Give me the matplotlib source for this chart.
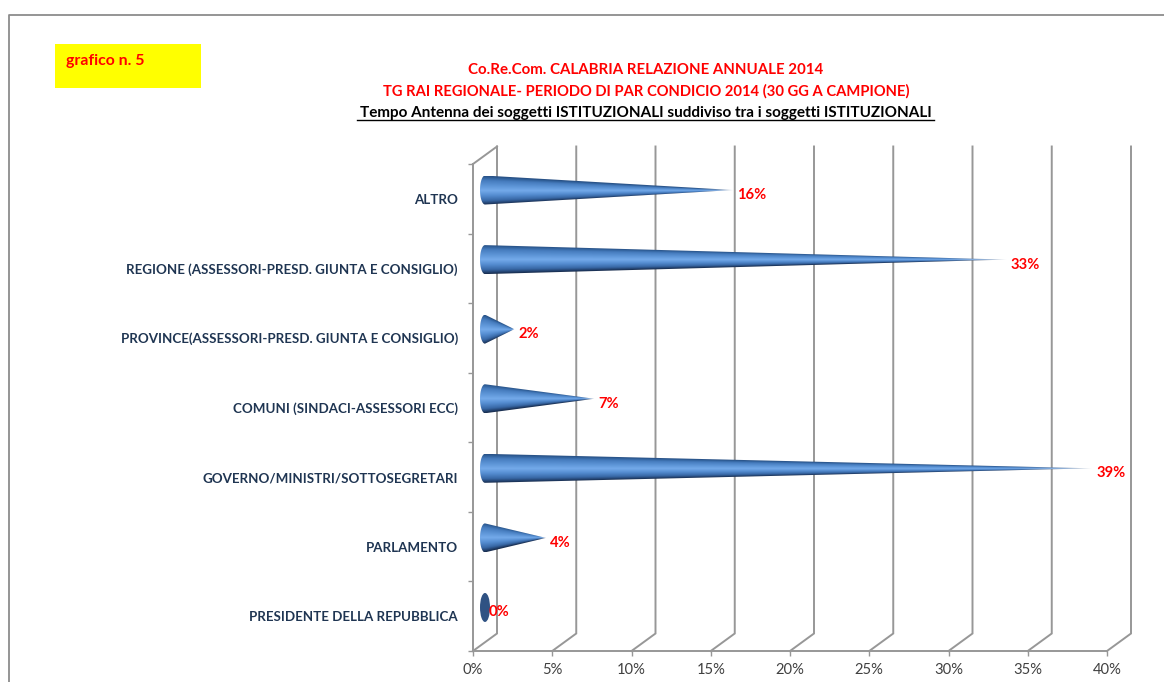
import numpy as np
import matplotlib
matplotlib.use('Agg')
import matplotlib.pyplot as plt
from matplotlib.patches import Ellipse, PathPatch, Rectangle
from matplotlib.path import Path
from matplotlib.lines import Line2D

# bottom to top, as on the chart's axis
categories = ['PRESIDENTE DELLA REPUBBLICA', 'PARLAMENTO', 'GOVERNO/MINISTRI/SOTTOSEGRETARI',
              'COMUNI (SINDACI-ASSESSORI ECC)', 'PROVINCE(ASSESSORI-PRESD. GIUNTA E CONSIGLIO)',
              'REGIONE (ASSESSORI-PRESD. GIUNTA E CONSIGLIO)', 'ALTRO']
values = [0.0, 3.85, 38.3, 6.9, 1.85, 32.9, 15.65]
value_labels = ['0%', '4%', '39%', '7%', '2%', '33%', '16%']
x_ticks = [0, 5, 10, 15, 20, 25, 30, 35, 40]

titles = ['Co.Re.Com. CALABRIA RELAZIONE ANNUALE 2014',
          'TG RAI REGIONALE- PERIODO DI PAR CONDICIO 2014 (30 GG A CAMPIONE)',
          'Tempo Antenna dei soggetti ISTITUZIONALI suddiviso tra i soggetti ISTITUZIONALI']

W, H = 1164, 682
GRAY = '#979797'
plt.rcParams['font.family'] = ['Lato', 'DejaVu Sans']

fig = plt.figure(figsize=(W / 100, H / 100), dpi=100)

# overlay in pixel coordinates for the frame and the headings
bg = fig.add_axes([0, 0, 1, 1])
bg.set_xlim(0, W)
bg.set_ylim(H, 0)
bg.axis('off')
bg.add_line(Line2D([9, 9, W], [H, 15, 15], color='#8c8c8c', lw=1.3))
bg.add_patch(Rectangle((55, 44), 146, 43.5, color='#ffff00', lw=0))
bg.text(66, 61, 'grafico n. 5', color='red', fontsize=11.4, fontweight='bold', va='center')
bg.text(646, 70.5, titles[0], color='red', fontsize=10.8, fontweight='bold', ha='center', va='center')
bg.text(646, 91, titles[1], color='red', fontsize=10.6, fontweight='bold', ha='center', va='center')
bg.text(646, 113, titles[2], color='black', fontsize=11, fontweight='bold', ha='center', va='center')
bg.add_line(Line2D([357, 934], [120, 120], color='black', lw=1.0))

ax = fig.add_axes([473 / W, (H - 651) / H, 634 / W, 487 / H])
ax.patch.set_alpha(0)
ax.set_xlim(0, 40)
ax.set_ylim(0, len(categories))

px_x = 634 / 40
px_y = 487 / len(categories)
depth_x = 24 / px_x
depth_y = 17.5 / px_y

# back walls and floor
for t in x_ticks:
    ax.plot([t, t + depth_x, t + depth_x], [0, depth_y, len(categories) + depth_y],
            color=GRAY, lw=1.4, clip_on=False, zorder=1, solid_joinstyle='miter')
ax.plot([0, depth_x], [len(categories), len(categories) + depth_y], color=GRAY, lw=1.4, clip_on=False, zorder=1)

stops_t = [0.0, 0.35, 0.7, 0.9, 1.0]
stops_top = np.array([[0x74, 0xaa, 0xea], [0x5c, 0x94, 0xd6], [0x46, 0x7c, 0xbe], [0x30, 0x60, 0x9a], [0x28, 0x50, 0x84]]) / 255
stops_bot = np.array([[0x74, 0xaa, 0xea], [0x54, 0x8c, 0xd0], [0x38, 0x68, 0xa6], [0x22, 0x40, 0x6c], [0x18, 0x2c, 0x4c]]) / 255

half_h = 14.5 / px_y
half_w = 5 / px_x

for i, (v, lab) in enumerate(zip(values, value_labels)):
    yc = i + 0.5 + depth_y / 2
    xc = depth_x / 2
    tip = xc + v
    if v > 0:
        # gradient across the cone, fading to pale at the tip
        xs = np.linspace(xc - half_w, tip, 500)
        ys = np.linspace(yc - half_h, yc + half_h, 120)
        xg, yg = np.meshgrid(xs, ys)
        frac = np.clip((xg - xc) / v, 0, 1)
        t = np.clip(np.abs(yg - yc) / (half_h * np.maximum(1 - frac, 0.01)), 0, 1)
        img = np.zeros(xg.shape + (3,))
        for c in range(3):
            upper = np.interp(t, stops_t, stops_top[:, c])
            lower = np.interp(t, stops_t, stops_bot[:, c])
            img[..., c] = np.where(yg >= yc, upper, lower)
        fade = np.clip((frac - 0.85) / 0.15, 0, 1)[..., None] ** 2
        img = img * (1 - fade * 0.8) + fade * 0.8
        im = ax.imshow(img, extent=[xs[0], xs[-1], ys[0], ys[-1]], origin='lower',
                       aspect='auto', zorder=3, interpolation='bilinear')
        ang = np.linspace(np.pi / 2, 3 * np.pi / 2, 40)
        outline = np.column_stack([xc + half_w * np.cos(ang), yc + half_h * np.sin(ang)])
        outline = np.vstack([outline, [tip, yc], outline[0]])
        clip = PathPatch(Path(outline), transform=ax.transData, fc='none', ec='none')
        ax.add_patch(clip)
        im.set_clip_path(clip)
    else:
        ax.add_patch(Ellipse((xc, yc), 2 * half_w, 2 * half_h, fc='#2f5283', ec='none', zorder=3))
    ax.annotate(lab, (tip, yc), xytext=(4, -5), textcoords='offset pixels', color='red',
                fontsize=10.6, fontweight='bold', ha='left', va='center', zorder=4, annotation_clip=False)

ax.set_xlim(0, 40)
ax.set_ylim(0, len(categories))

for side in ['top', 'right']:
    ax.spines[side].set_visible(False)
for side in ['left', 'bottom']:
    ax.spines[side].set_color(GRAY)
    ax.spines[side].set_linewidth(1.4)

ax.set_xticks(x_ticks)
ax.set_xticklabels([f'{t}%' for t in x_ticks], fontsize=10.6, color='#404040')
ax.tick_params(axis='x', length=3.6, width=1, color=GRAY, pad=5)

ax.set_yticks(np.arange(len(categories)) + 0.5)
ax.set_yticklabels(categories, fontsize=9.6, fontweight='bold', color='#1f3552')
ax.set_yticks(np.arange(len(categories) + 1), minor=True)
ax.tick_params(axis='y', which='major', length=0, pad=10.8)
ax.tick_params(axis='y', which='minor', length=3.6, width=1, color=GRAY)

fig.savefig('out.png', dpi=100)
